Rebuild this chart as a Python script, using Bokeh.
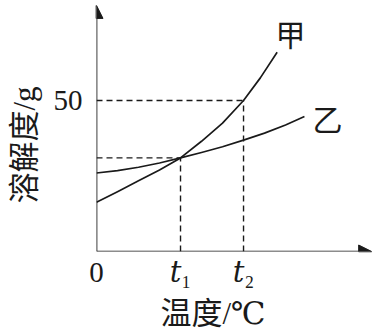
from bokeh.embed import file_html
from bokeh.models import Arrow, FixedTicker, Label, NormalHead, Range1d, Title
from bokeh.plotting import figure
from bokeh.resources import INLINE

# Tick positions and their labels
x_ticks = [0, 40, 70]
x_tick_labels = ["0", "𝑡₁", "𝑡₂"]
y_ticks = [50]
y_tick_labels = ["50"]
x_title = "温度/℃"
y_title = "溶解度/g"

# Reference temperatures and solubilities for the guide lines
t1, t2 = 40, 70
s_cross = 31.0   # both curves meet here at t1
s_jia_t2 = 50.0  # 甲 at t2

# Solubility curves (temperature, solubility in g)
jia_t = [0, 10, 20, 30, 40, 50, 60, 70, 78, 86]
jia_s = [16.3, 19.8, 23.4, 27.0, 31.0, 36.5, 42.5, 50.0, 57.5, 66.0]
yi_t = [0, 10, 20, 30, 40, 50, 60, 70, 80, 90, 99]
yi_s = [26.0, 26.8, 27.9, 29.3, 31.0, 32.8, 34.7, 36.9, 39.2, 41.9, 44.7]

SERIF = "'Liberation Serif', 'DejaVu Serif', 'Noto Sans CJK SC'"
INK = "#1a1a1a"

x_end, y_end = 131.4, 81.8

p = figure(
    width=376, height=334,
    x_range=Range1d(0, x_end), y_range=Range1d(0, y_end),
    output_backend="svg", toolbar_location=None,
    min_border_left=96, min_border_right=4,
    min_border_top=4, min_border_bottom=83,
)
p.background_fill_color = "white"
p.border_fill_color = "white"
p.outline_line_color = None
p.grid.visible = False

for ax in (p.xaxis[0], p.yaxis[0]):
    ax.axis_line_color = None
    ax.major_tick_line_color = None
    ax.minor_tick_line_color = None
    ax.major_label_text_font = SERIF
    ax.major_label_text_font_size = "29px"
    ax.major_label_text_color = INK

p.xaxis.ticker = FixedTicker(ticks=x_ticks)
p.xaxis.major_label_overrides = {t: s for t, s in zip(x_ticks, x_tick_labels)}
p.xaxis.major_label_standoff = -2

p.yaxis.ticker = FixedTicker(ticks=y_ticks)
p.yaxis.major_label_overrides = {t: s for t, s in zip(y_ticks, y_tick_labels)}
p.yaxis.major_label_standoff = 8

# Axis titles, set in the side panels next to the axes
title_style = dict(text_font=SERIF, text_font_size="31px", text_color=INK,
                   text_font_style="normal", align="left")
p.add_layout(Title(text=x_title, offset=64, standoff=7, **title_style), "below")
p.add_layout(Title(text=y_title, offset=48, standoff=13, vertical_align="top",
                   **title_style), "left")

# Dashed guide lines
guide = dict(line_color=INK, line_width=1.4, line_dash="6 4")
p.line([0, t2], [s_jia_t2, s_jia_t2], **guide)
p.line([t2, t2], [0, s_jia_t2], **guide)
p.line([0, t1], [s_cross, s_cross], **guide)
p.line([t1, t1], [0, s_cross], **guide)

# Curves
p.line(jia_t, jia_s, line_color=INK, line_width=1.7, line_join="round")
p.line(yi_t, yi_s, line_color=INK, line_width=1.7, line_join="round")

# Axes with arrowheads
head = dict(size=13, fill_color=INK, line_color=INK, line_width=1)
p.add_layout(Arrow(end=NormalHead(**head), x_start=0, y_start=0,
                   x_end=0, y_end=81.5, line_color=INK, line_width=1.7))
p.add_layout(Arrow(end=NormalHead(**head), x_start=0, y_start=0,
                   x_end=131, y_end=0, line_color=INK, line_width=1.7))

label_style = dict(text_font=SERIF, text_font_size="30px", text_align="center",
                   text_baseline="middle", text_color=INK)

# Curve names
p.add_layout(Label(x=92.4, y=71.5, text="甲", **label_style))
p.add_layout(Label(x=110, y=43.4, text="乙", **label_style))

open("out.html", "w").write(file_html(p, INLINE))
